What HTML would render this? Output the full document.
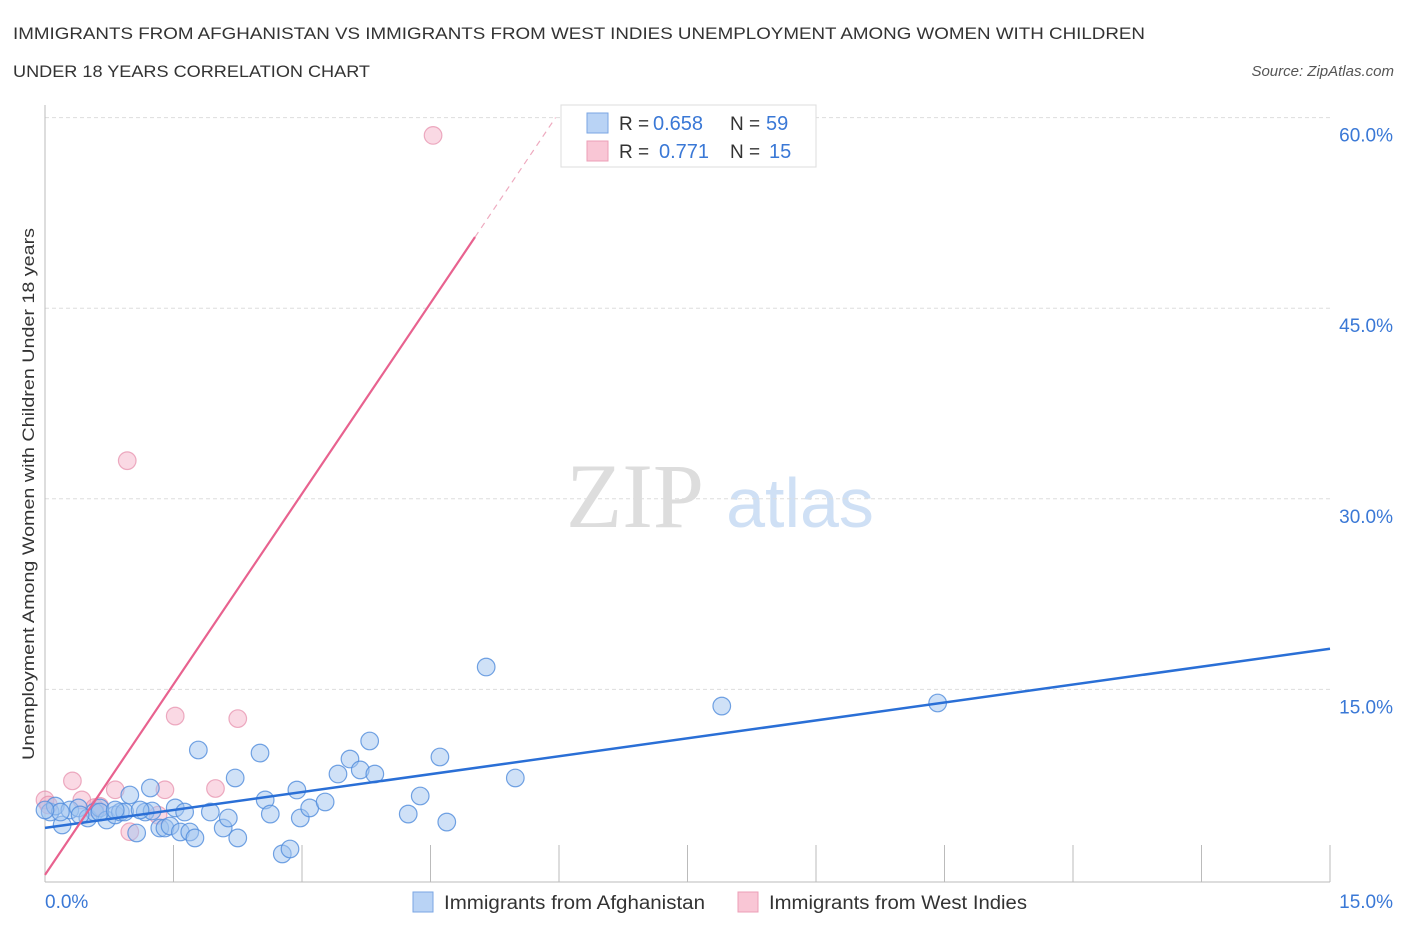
<!DOCTYPE html>
<html><head><meta charset="utf-8"><style>
body{margin:0;background:#fff;font-family:"Liberation Sans",sans-serif}
</style></head><body>
<svg width="1406" height="930" xmlns="http://www.w3.org/2000/svg" font-family="Liberation Sans, sans-serif">
<text x="13" y="39" font-size="17" fill="#333" textLength="1132" lengthAdjust="spacingAndGlyphs">IMMIGRANTS FROM AFGHANISTAN VS IMMIGRANTS FROM WEST INDIES UNEMPLOYMENT AMONG WOMEN WITH CHILDREN</text>
<text x="13" y="77" font-size="17" fill="#333" textLength="357" lengthAdjust="spacingAndGlyphs">UNDER 18 YEARS CORRELATION CHART</text>
<text x="1394" y="76" font-size="15" fill="#555" font-style="italic" text-anchor="end">Source: ZipAtlas.com</text>
<g>
<text x="635" y="527" font-size="92" fill="#ddd" font-family="Liberation Serif, serif" text-anchor="middle">ZIP</text>
<text x="800" y="527" font-size="70" fill="#cfe0f5" text-anchor="middle">atlas</text>
</g>
<g id="grid"></g>
<g id="axes"></g>
<g id="marks"></g>
<text transform="translate(34,494) rotate(-90)" font-size="17" fill="#333" text-anchor="middle" textLength="532" lengthAdjust="spacingAndGlyphs">Unemployment Among Women with Children Under 18 years</text>
<g>
<rect x="561" y="105" width="255" height="62" fill="#fff" stroke="#ddd"/>
<rect x="587" y="113" width="21" height="20" fill="#b9d3f5" stroke="#7aa6e3"/>
<rect x="587" y="141" width="21" height="20" fill="#f9c6d5" stroke="#ec9fb7"/>
<text x="619" y="130" font-size="19" fill="#333">R =</text>
<text x="653" y="130" font-size="20" fill="#3a78d6">0.658</text>
<text x="730" y="130" font-size="19" fill="#333">N =</text>
<text x="766" y="130" font-size="20" fill="#3a78d6">59</text>
<text x="619" y="158" font-size="19" fill="#333">R =</text>
<text x="659" y="158" font-size="20" fill="#3a78d6">0.771</text>
<text x="730" y="158" font-size="19" fill="#333">N =</text>
<text x="769" y="158" font-size="20" fill="#3a78d6">15</text>
</g>
<g>
<rect x="413" y="892" width="20" height="20" fill="#b9d3f5" stroke="#7aa6e3"/>
<text x="444" y="909" font-size="19" fill="#333" textLength="261" lengthAdjust="spacingAndGlyphs">Immigrants from Afghanistan</text>
<rect x="738" y="892" width="20" height="20" fill="#f9c6d5" stroke="#ec9fb7"/>
<text x="769" y="909" font-size="19" fill="#333" textLength="258" lengthAdjust="spacingAndGlyphs">Immigrants from West Indies</text>
</g>
</svg>
<script>
const blueX=[0.06,0.12,0.20,0.29,0.39,0.50,0.58,0.64,0.72,0.82,0.88,0.93,0.99,1.07,1.17,1.23,1.25,1.34,1.40,1.46,1.52,1.58,1.63,1.69,1.75,1.79,1.93,2.08,2.14,2.22,2.25,2.51,2.57,2.63,2.77,2.86,2.94,2.98,3.09,3.27,3.42,3.56,3.68,3.79,3.85,4.24,4.38,4.61,4.69,5.15,5.49,7.90,10.42,0.64,0.41,0.82,0.18,1.11,0.0];
const blueY=[5.35,5.82,4.33,5.51,5.67,4.88,5.35,5.67,4.72,5.12,5.35,5.35,6.69,3.70,5.35,7.24,5.43,4.09,4.09,4.25,5.67,3.78,5.35,3.78,3.31,10.23,5.35,4.09,4.88,8.03,3.31,9.99,6.30,5.19,2.05,2.44,7.08,4.88,5.67,6.14,8.34,9.52,8.66,10.94,8.34,5.19,6.61,9.68,4.56,16.76,8.03,13.69,13.93,5.35,5.12,5.51,5.35,5.51,5.51];
const pinkX=[0.0,0.04,0.32,0.43,0.58,0.64,0.82,0.96,0.99,1.32,1.40,1.52,1.99,2.25,4.53];
const pinkY=[6.3,5.9,7.8,6.3,5.7,5.8,7.1,33.0,3.8,5.1,7.1,12.9,7.2,12.7,58.6];
const yTicks=[15,30,45,60];
const yTickLabels=["15.0%","30.0%","45.0%","60.0%"];
const xTickLabels=["0.0%","15.0%"];
const blueTrend=[4.1,18.2];
const pinkTrend=[0.4,10.0];
const NS="http://www.w3.org/2000/svg";
const X0=45,X1=1330,Y0=880,PPY=190.6/15;
const sx=v=>X0+(v/15)*(X1-X0);
const sy=v=>Y0-v*PPY;
function mk(t,a,p){const e=document.createElementNS(NS,t);for(const k in a)e.setAttribute(k,a[k]);p.appendChild(e);return e;}
const grid=document.getElementById('grid'),axes=document.getElementById('axes'),marks=document.getElementById('marks');
yTicks.forEach((t,i)=>{
 const l=mk('line',{x1:X0,x2:X1,y1:sy(t),y2:sy(t),stroke:'#ddd','stroke-dasharray':'4,3'},grid);
 
 
 const tx=mk('text',{x:1393,y:sy(t)+24,'font-size':19,fill:'#3a78d6','text-anchor':'end'},axes);
 tx.textContent=yTickLabels[i];
 
 
});
const ya=mk('line',{x1:X0,x2:X0,y1:105,y2:882,stroke:'#bbb'},axes);


const xa=mk('line',{x1:X0,x2:X1,y1:882,y2:882,stroke:'#bbb'},axes);


for(let i=1;i<=10;i++){
 const v=i*1.5;
 const tk=mk('line',{x1:sx(v),x2:sx(v),y1:845,y2:882,stroke:'#bbb'},axes);
 
 
}
[[0,'start',45],[15,'end',1393]].forEach((d,i)=>{
 const tx=mk('text',{x:d[2],y:908,'font-size':19,fill:'#3a78d6','text-anchor':d[1]},axes);
 tx.textContent=xTickLabels[i];
 
 
});
pinkX.forEach((x,i)=>{
 const c=mk('circle',{cx:sx(x),cy:sy(pinkY[i]),r:8.8,fill:'rgba(244,170,195,0.45)',stroke:'rgba(230,140,170,0.7)','stroke-width':1.2},marks);
 
 
});
blueX.forEach((x,i)=>{
 const c=mk('circle',{cx:sx(x),cy:sy(blueY[i]),r:8.8,fill:'rgba(160,195,240,0.5)',stroke:'rgba(80,140,220,0.8)','stroke-width':1.2},marks);
 
 
});
const bt=mk('line',{x1:sx(0),y1:sy(blueTrend[0]),x2:sx(15),y2:sy(blueTrend[1]),stroke:'#2a6fd6','stroke-width':2.5},marks);


const pe=5.02;
const pt=mk('line',{x1:sx(0),y1:sy(pinkTrend[0]),x2:sx(pe),y2:sy(pinkTrend[0]+pinkTrend[1]*pe),stroke:'#e8628f','stroke-width':2.2},marks);


const pe2=(60-pinkTrend[0])/pinkTrend[1];
const pd=mk('line',{x1:sx(pe),y1:sy(pinkTrend[0]+pinkTrend[1]*pe),x2:sx(pe2),y2:sy(60),stroke:'#eeaabf','stroke-width':1.2,'stroke-dasharray':'6,5'},marks);


</script>
</body></html>
